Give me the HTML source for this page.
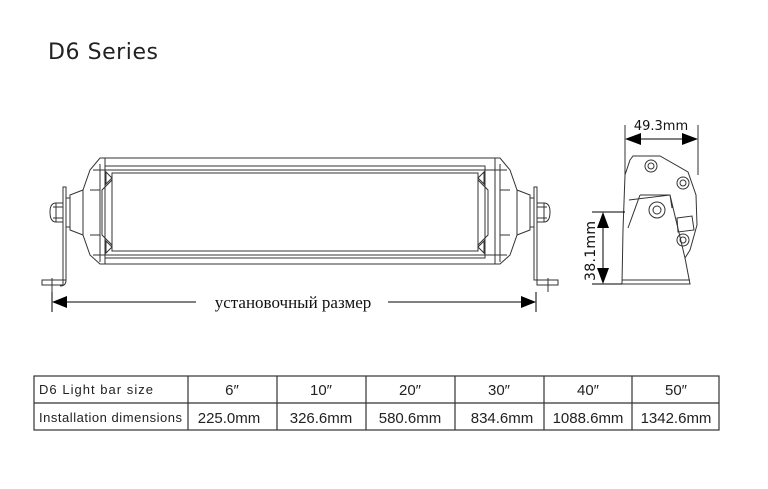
<!DOCTYPE html>
<html><head><meta charset="utf-8"><style>
body{margin:0;background:#fff;width:768px;height:484px;overflow:hidden;font-family:"Liberation Sans",sans-serif}
</style></head><body>
<svg width="768" height="484" viewBox="0 0 768 484" xmlns="http://www.w3.org/2000/svg">
<text x="48" y="59" font-family="DejaVu Sans, Liberation Sans, sans-serif" font-size="22" fill="#222" textLength="110">D6 Series</text>
<g fill="none" stroke="#333" stroke-width="1">
<path d="M100 158 L500 158 L510 170 L517 190 L517 235 L510 255 L500 264 L100 264 L90 255 L83 235 L83 190 L90 170 Z"/>
<path d="M93 170 L507 170 M93 255 L507 255"/>
<rect x="105" y="166" width="380" height="92"/>
<rect x="112" y="173" width="366" height="78"/>
<path d="M105 158 L105 264 M495 158 L495 264"/>
<path d="M100 164 L100 262 M500 164 L500 262"/>
<path d="M112 180 L102 190 L102 235 L112 245 M478 180 L488 190 L488 235 L478 245"/>
<path d="M106 172 L112 178 L106 184 Z M106 241 L112 247 L106 253 Z M484 172 L478 178 L484 184 Z M484 241 L478 247 L484 253 Z"/>
<path d="M90 190 L100 190 M90 235 L100 235 M500 190 L510 190 M500 235 L510 235"/>
<path d="M83 190 L70 195 L70 230 L83 235 Z"/>
<path d="M70 198 L66 198 L66 227 L70 227"/>
<rect x="63" y="187" width="3" height="93"/>
<path d="M63 280 L63 285 L42 285 L42 280 L63 280 M66 280 Q66 286 60 286"/>
<path d="M52 278 L52 292 M46 285 L58 285"/>
<path d="M63 203 L56 203 Q50 203 50 212 Q50 222 56 222 L63 222 Z M56 203 L56 222 M53 207 L63 207 M53 218 L63 218"/>
<path d="M517 190 L530 195 L530 230 L517 235 Z"/>
<path d="M530 198 L534 198 L534 227 L530 227"/>
<rect x="534" y="187" width="3" height="93"/>
<path d="M537 280 L537 285 L558 285 L558 280 L537 280"/>
<path d="M548 278 L548 292 M542 285 L554 285"/>
<path d="M537 203 L544 203 Q550 203 550 212 Q550 222 544 222 L537 222 Z M544 203 L544 222 M537 207 L547 207 M537 218 L547 218"/>
<path d="M52 292 L52 312 M536 292 L536 312" stroke="#000"/>
<path d="M66 302 L196 302 M388 302 L522 302" stroke="#000"/>
</g>
<path d="M52 302 L67 296 L67 308 Z M536 302 L521 296 L521 308 Z" fill="#000"/>
<text x="293" y="308" text-anchor="middle" font-family="Liberation Serif, serif" font-size="17" fill="#111">установочный размер</text>
<g fill="none" stroke="#333" stroke-width="1">
<path d="M625 125 L625 175 M698 125 L698 175" />
<path d="M639 139 L684 139" stroke="#000"/>
<path d="M630 160 L633 156 L660 156 L688 172 L696 195 L697 225 L690 250 L685 258 L690 284 L622 284 L623 230 L625 175 Z"/>
<path d="M629 200 L670 195 L672 208 M628 228 L640 195 M640 195 L670 195 L685 258"/>
<path d="M622 280 L690 280"/>
<circle cx="651" cy="166" r="6"/><circle cx="651" cy="166" r="3"/>
<circle cx="683" cy="183" r="6"/><circle cx="683" cy="183" r="3"/>
<circle cx="657" cy="210" r="8"/><circle cx="657" cy="210" r="4"/>
<circle cx="683" cy="240" r="6"/><circle cx="683" cy="240" r="3"/>
<path d="M677 218 L692 216 L694 230 L678 232 Z"/>
<path d="M592 212 L625 212 M592 284 L622 284" stroke="#000"/>
<path d="M603 226 L603 270" stroke="#000"/>
</g>
<path d="M625 139 L641 133 L641 145 Z M698 139 L682 133 L682 145 Z M603 212 L597 228 L609 228 Z M603 284 L597 268 L609 268 Z" fill="#000"/>
<text x="661" y="130" text-anchor="middle" font-family="DejaVu Sans, sans-serif" font-size="13" fill="#111">49.3mm</text>
<text transform="translate(595 251) rotate(-90)" text-anchor="middle" font-family="DejaVu Sans, sans-serif" font-size="14" fill="#111" textLength="60">38.1mm</text>
<g stroke="#333" stroke-width="1.2" fill="none">
<rect x="34" y="376" width="685" height="54"/>
<path d="M34 403 L719 403 M188 376 L188 430 M277 376 L277 430 M366 376 L366 430 M455 376 L455 430 M544 376 L544 430 M632 376 L632 430"/>
</g>
<g font-family="Liberation Sans, sans-serif" fill="#222" text-anchor="middle">
<text x="39" y="394" font-size="13" text-anchor="start" textLength="114">D6 Light bar size</text>
<text x="39" y="422" font-size="13" text-anchor="start" textLength="143">Installation dimensions</text>
<text x="232" y="395" font-size="15">6″</text>
<text x="321" y="395" font-size="15">10″</text>
<text x="410" y="395" font-size="15">20″</text>
<text x="499" y="395" font-size="15">30″</text>
<text x="588" y="395" font-size="15">40″</text>
<text x="676" y="395" font-size="15">50″</text>
<text x="229" y="423" font-size="15">225.0mm</text>
<text x="321" y="423" font-size="15">326.6mm</text>
<text x="410" y="423" font-size="15">580.6mm</text>
<text x="502" y="423" font-size="15">834.6mm</text>
<text x="588" y="423" font-size="15">1088.6mm</text>
<text x="676" y="423" font-size="15">1342.6mm</text>
</g>
</svg>
</body></html>
